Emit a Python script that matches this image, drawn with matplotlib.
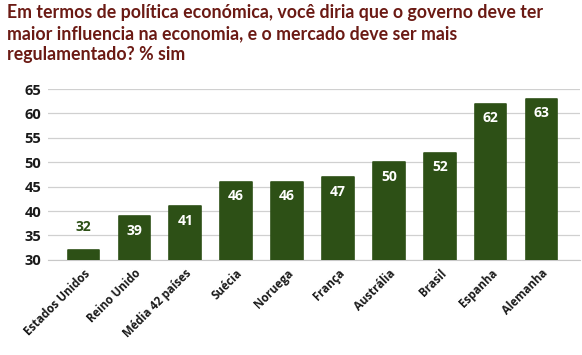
import matplotlib.pyplot as plt
import numpy as np

paises = ['Estados Unidos', 'Reino Unido', 'Média 42 países', 'Suécia', 'Noruega',
          'França', 'Austrália', 'Brasil', 'Espanha', 'Alemanha']
valores = [32, 39, 41, 46, 46, 47, 50, 52, 62, 63]
yticks = [30, 35, 40, 45, 50, 55, 60, 65]

titulo = ('Em termos de política económica, você diria que o governo deve ter\n'
          'maior influencia na economia, e o mercado deve ser mais\n'
          'regulamentado? % sim')

verde = '#2d5016'
fig = plt.figure(figsize=(5.82, 3.55), dpi=100)
ax = fig.add_axes([0.083, 0.268, 0.914, 0.481])

x = np.arange(len(paises))
bars = ax.bar(x, [v - 30 for v in valores], bottom=30, width=0.62, color=verde,
              edgecolor=verde, linewidth=1.2, joinstyle='round', zorder=3)

for xi, v in zip(x, valores):
    if v - 30 < 5:
        ax.text(xi, v + 4.8, str(v), ha='center', va='center', color=verde,
                fontsize=10, fontweight='bold', family='Open Sans')
    else:
        ax.text(xi, v - 3.0, str(v), ha='center', va='center', color='white',
                fontsize=10, fontweight='bold', family='Open Sans')

ax.set_ylim(30, 65)
ax.set_xlim(-0.69, 9.76)
ax.set_yticks(yticks)
ax.set_yticklabels([str(t) for t in yticks], fontsize=10.5, fontweight='bold',
                   family='Open Sans', color='#1a1a1a')
ax.set_xticks(x)
ax.set_xticklabels(paises, rotation=45, ha='right', rotation_mode='anchor',
                   fontsize=8.3, fontweight='bold', family='Open Sans', color='#1a1a1a')
ax.tick_params(length=0)
ax.tick_params(axis='y', pad=5)
ax.tick_params(axis='x', pad=5)
ax.grid(axis='y', color='#d0d0d0', linewidth=0.9, zorder=0)
for s in ['top', 'right', 'left']:
    ax.spines[s].set_visible(False)
ax.spines['bottom'].set_color('#c8c8c8')

fig.text(0.012, 0.99, titulo, ha='left', va='top', fontsize=12.8, fontweight='bold',
         family='Lato', color='#6b1a14', linespacing=1.3)

fig.savefig('out.png', dpi=100)
